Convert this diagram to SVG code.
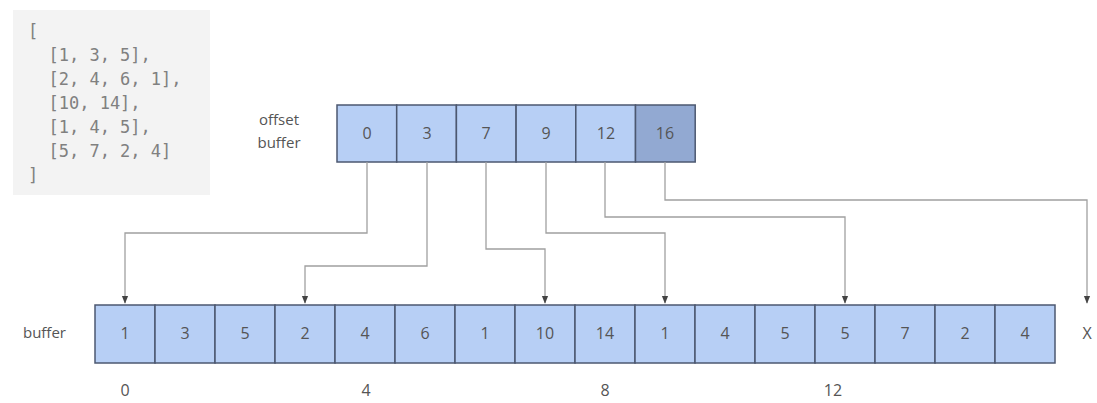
<svg xmlns="http://www.w3.org/2000/svg" width="1097" height="403" viewBox="0 0 1097 403">
<defs>
<style>
.cell{fill:#b7cff5;stroke:#4c5870;stroke-width:1.5}
.cell.last{fill:#92a9d2}
.num{font-family:"Open Sans","DejaVu Sans",sans-serif;font-size:16px;fill:#555;text-anchor:middle}
.lbl{font-family:"Open Sans","DejaVu Sans",sans-serif;font-size:15px;fill:#555}
.code{font-family:"DejaVu Sans Mono","Liberation Mono",monospace;font-size:17px;fill:#808080}
.conn{fill:none;stroke:#a0a0a0;stroke-width:1.3}
</style>
<marker id="arr" viewBox="0 0 10 10" refX="9" refY="5" markerWidth="6" markerHeight="6" orient="auto">
<path d="M0,1 L10,5 L0,9 z" fill="#444"/>
</marker>
</defs>
<rect width="1097" height="403" fill="#fff"/>
<g id="code">
<rect x="13" y="10" width="197" height="185" fill="#f3f3f3"/>
<text class="code" x="28" y="37">[</text>
<text class="code" x="28" y="61" xml:space="preserve">  [1, 3, 5],</text>
<text class="code" x="28" y="85" xml:space="preserve">  [2, 4, 6, 1],</text>
<text class="code" x="28" y="109" xml:space="preserve">  [10, 14],</text>
<text class="code" x="28" y="133" xml:space="preserve">  [1, 4, 5],</text>
<text class="code" x="28" y="157" xml:space="preserve">  [5, 7, 2, 4]</text>
<text class="code" x="28" y="181">]</text>
</g>
<g id="offset-label">
<text class="lbl" x="279" y="125" text-anchor="middle">offset</text>
<text class="lbl" x="279" y="148" text-anchor="middle">buffer</text>
</g>
<g id="offset-buffer">
<rect class="cell" x="337" y="105" width="59.7" height="57"/>
<rect class="cell" x="396.7" y="105" width="59.7" height="57"/>
<rect class="cell" x="456.4" y="105" width="59.7" height="57"/>
<rect class="cell" x="516.1" y="105" width="59.7" height="57"/>
<rect class="cell" x="575.8" y="105" width="59.7" height="57"/>
<rect class="cell last" x="635.5" y="105" width="59.7" height="57"/>
<text class="num" x="367" y="139">0</text>
<text class="num" x="427" y="139">3</text>
<text class="num" x="486" y="139">7</text>
<text class="num" x="546" y="139">9</text>
<text class="num" x="606" y="139">12</text>
<text class="num" x="665" y="139">16</text>
</g>
<g id="buffer-label">
<text class="lbl" x="66" y="338" text-anchor="end">buffer</text>
</g>
<g id="buffer">
<rect class="cell" x="95" y="305" width="60" height="58"/>
<rect class="cell" x="155" y="305" width="60" height="58"/>
<rect class="cell" x="215" y="305" width="60" height="58"/>
<rect class="cell" x="275" y="305" width="60" height="58"/>
<rect class="cell" x="335" y="305" width="60" height="58"/>
<rect class="cell" x="395" y="305" width="60" height="58"/>
<rect class="cell" x="455" y="305" width="60" height="58"/>
<rect class="cell" x="515" y="305" width="60" height="58"/>
<rect class="cell" x="575" y="305" width="60" height="58"/>
<rect class="cell" x="635" y="305" width="60" height="58"/>
<rect class="cell" x="695" y="305" width="60" height="58"/>
<rect class="cell" x="755" y="305" width="60" height="58"/>
<rect class="cell" x="815" y="305" width="60" height="58"/>
<rect class="cell" x="875" y="305" width="60" height="58"/>
<rect class="cell" x="935" y="305" width="60" height="58"/>
<rect class="cell" x="995" y="305" width="60" height="58"/>
<text class="num" x="125" y="339">1</text>
<text class="num" x="185" y="339">3</text>
<text class="num" x="245" y="339">5</text>
<text class="num" x="305" y="339">2</text>
<text class="num" x="365" y="339">4</text>
<text class="num" x="425" y="339">6</text>
<text class="num" x="485" y="339">1</text>
<text class="num" x="545" y="339">10</text>
<text class="num" x="605" y="339">14</text>
<text class="num" x="665" y="339">1</text>
<text class="num" x="725" y="339">4</text>
<text class="num" x="785" y="339">5</text>
<text class="num" x="845" y="339">5</text>
<text class="num" x="905" y="339">7</text>
<text class="num" x="965" y="339">2</text>
<text class="num" x="1025" y="339">4</text>
</g>
<g id="end-marker">
<text class="num" x="1087" y="339">X</text>
</g>
<g id="indices">
<text class="num" x="125" y="396">0</text>
<text class="num" x="366" y="396">4</text>
<text class="num" x="605" y="396">8</text>
<text class="num" x="833" y="396">12</text>
</g>
<g id="connectors">
<path class="conn" marker-end="url(#arr)" d="M367 162 V233 H125 V303"/>
<path class="conn" marker-end="url(#arr)" d="M427 162 V266 H305 V303"/>
<path class="conn" marker-end="url(#arr)" d="M486 162 V249 H545 V303"/>
<path class="conn" marker-end="url(#arr)" d="M546 162 V233 H665 V303"/>
<path class="conn" marker-end="url(#arr)" d="M605 162 V217 H845 V303"/>
<path class="conn" marker-end="url(#arr)" d="M665 162 V200 H1087 V303"/>
</g>
</svg>
